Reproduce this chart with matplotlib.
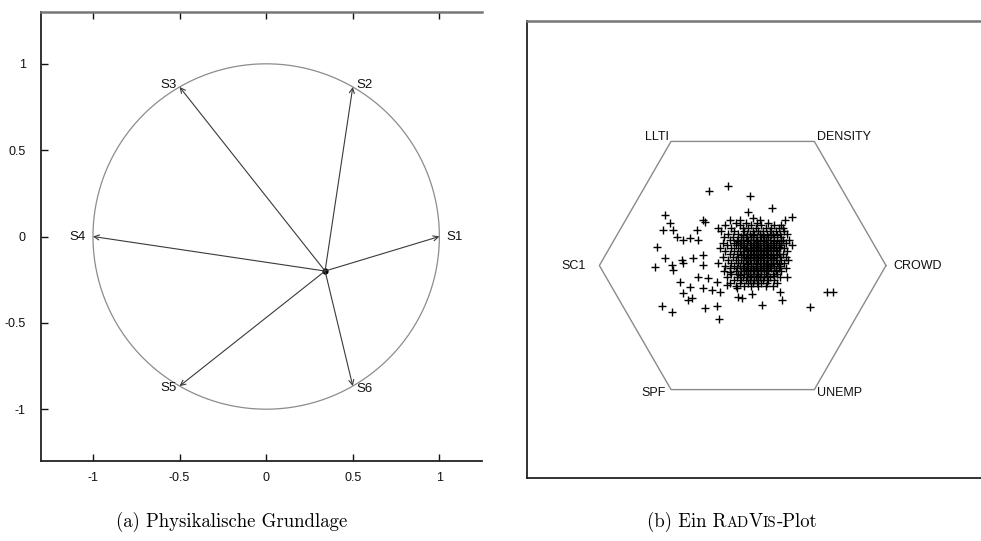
import numpy as np
import matplotlib.pyplot as plt

# ---- left panel: physical model (springs on the unit circle) ----
anchor_names = ["S1", "S2", "S3", "S4", "S5", "S6"]
anchor_angles = [0, 60, 120, 180, 240, 300]
spring_point = (0.34, -0.20)
left_ticks = [-1, -0.5, 0, 0.5, 1]
left_tick_labels = ["-1", "-0.5", "0", "0.5", "1"]

# ---- right panel: RadViz of six dimensions ----
dim_names = ["CROWD", "DENSITY", "LLTI", "SC1", "SPF", "UNEMP"]
dim_angles = [0, 60, 120, 180, 240, 300]

# scattered points around the main cloud
outlier_x = [-0.233, -0.100, 0.051, 0.202, 0.342, 0.295, 0.039, -0.542, -0.507, -0.263,
             -0.554, -0.484, -0.600, -0.461, -0.415, -0.368, -0.310, -0.321, -0.170, -0.089,
             -0.019, 0.074, 0.121, 0.283, 0.342, -0.612, -0.542, -0.495, -0.484, -0.426,
             -0.345, -0.275, -0.275, -0.438, -0.368, -0.415, -0.380, -0.356, -0.565, -0.495,
             -0.263, -0.181, -0.158, -0.216, -0.275, -0.310, -0.240, -0.181, -0.112, -0.042,
             -0.031, -0.089, -0.019, 0.063, 0.133, 0.260, 0.272, 0.470, 0.586, 0.632,
             0.307, 0.318, -0.007, -0.167, -0.275, -0.419]
outlier_y = [0.522, 0.555, 0.485, 0.399, 0.341, 0.318, 0.375, 0.352, 0.294, 0.306,
             0.248, 0.248, 0.131, 0.201, 0.178, 0.190, 0.178, 0.248, 0.262, 0.318,
             0.318, 0.329, 0.318, 0.260, 0.143, -0.008, 0.050, 0.003, -0.031, 0.038,
             0.050, 0.073, 0.003, -0.113, -0.148, -0.194, -0.241, -0.229, -0.281, -0.322,
             -0.294, -0.283, -0.183, -0.171, -0.159, -0.078, -0.089, -0.113, -0.136, -0.159,
             -0.218, -0.043, -0.066, -0.201, -0.276, -0.183, -0.241, -0.288, -0.187, -0.187,
             -0.078, 0.038, -0.229, -0.371, 0.318, 0.018]

# dense core of the cloud, read row by row (y, list of x)
core_rows = [
    (0.30, [-0.05, 0.02, 0.10, 0.18]),
    (0.28, [-0.12, -0.02, 0.06, 0.13, 0.22, 0.27]),
    (0.26, [-0.08, 0.00, 0.04, 0.09, 0.16, 0.20, 0.25]),
    (0.24, [-0.15, -0.06, 0.01, 0.07, 0.11, 0.14, 0.19, 0.23, 0.29]),
    (0.22, [-0.10, -0.03, 0.03, 0.05, 0.08, 0.12, 0.17, 0.21, 0.26, 0.31]),
    (0.21, [0.00, 0.07, 0.14, 0.20, 0.24]),
    (0.20, [-0.13, -0.07, -0.01, 0.02, 0.06, 0.10, 0.13, 0.15, 0.18, 0.22, 0.27]),
    (0.18, [-0.09, -0.04, 0.00, 0.04, 0.07, 0.09, 0.12, 0.16, 0.19, 0.24, 0.28, 0.32]),
    (0.17, [-0.03, 0.03, 0.10, 0.15, 0.22, 0.27]),
    (0.16, [-0.14, -0.06, -0.02, 0.01, 0.05, 0.08, 0.11, 0.14, 0.17, 0.21, 0.25, 0.30]),
    (0.14, [-0.11, -0.05, -0.01, 0.03, 0.06, 0.09, 0.12, 0.15, 0.18, 0.20, 0.23, 0.27]),
    (0.13, [0.01, 0.07, 0.11, 0.17, 0.21, 0.25]),
    (0.12, [-0.16, -0.08, -0.03, 0.00, 0.02, 0.05, 0.08, 0.10, 0.13, 0.16, 0.19, 0.22, 0.26, 0.29]),
    (0.11, [0.03, 0.06, 0.11, 0.15, 0.18, 0.23]),
    (0.10, [-0.12, -0.06, -0.02, 0.01, 0.04, 0.07, 0.09, 0.12, 0.14, 0.17, 0.20, 0.24, 0.31]),
    (0.08, [-0.09, -0.04, 0.00, 0.03, 0.06, 0.08, 0.11, 0.13, 0.16, 0.18, 0.21, 0.25, 0.28]),
    (0.07, [-0.01, 0.05, 0.09, 0.14, 0.20, 0.24]),
    (0.06, [-0.14, -0.07, -0.03, 0.01, 0.04, 0.07, 0.10, 0.12, 0.15, 0.19, 0.22, 0.26, 0.30]),
    (0.05, [0.02, 0.08, 0.13, 0.17, 0.21]),
    (0.04, [-0.10, -0.05, -0.01, 0.02, 0.05, 0.08, 0.11, 0.14, 0.17, 0.20, 0.23, 0.27]),
    (0.02, [-0.17, -0.08, -0.03, 0.00, 0.03, 0.06, 0.09, 0.12, 0.15, 0.18, 0.21, 0.24, 0.29]),
    (0.01, [0.04, 0.10, 0.16, 0.20, 0.25]),
    (0.00, [-0.12, -0.06, -0.02, 0.01, 0.04, 0.07, 0.10, 0.13, 0.16, 0.19, 0.22, 0.26]),
    (-0.02, [-0.09, -0.04, 0.00, 0.03, 0.06, 0.09, 0.12, 0.14, 0.17, 0.20, 0.25, 0.30]),
    (-0.03, [0.02, 0.08, 0.13, 0.18, 0.23]),
    (-0.04, [-0.13, -0.05, -0.01, 0.02, 0.05, 0.08, 0.11, 0.15, 0.18, 0.23, 0.27]),
    (-0.06, [-0.08, -0.03, 0.01, 0.04, 0.07, 0.10, 0.13, 0.16, 0.21, 0.24]),
    (-0.07, [0.05, 0.11, 0.17, 0.22]),
    (-0.08, [-0.11, -0.04, 0.00, 0.03, 0.06, 0.09, 0.12, 0.15, 0.19, 0.26]),
    (-0.10, [-0.06, -0.01, 0.02, 0.05, 0.08, 0.11, 0.14, 0.18, 0.22]),
    (-0.12, [-0.09, -0.02, 0.04, 0.07, 0.10, 0.13, 0.17, 0.24]),
    (-0.14, [-0.05, 0.01, 0.06, 0.11, 0.16, 0.21]),
]

sans = ["Liberation Sans", "DejaVu Sans"]
serif = ["cmr10", "DejaVu Serif"]

fig = plt.figure(figsize=(9.81, 5.41), dpi=100)

# ---------------- (a) ----------------
ax1 = fig.add_axes([41 / 981, 1 - 461 / 541, (482 - 41) / 981, (461 - 12) / 541])
ax1.set_xlim(-1.3, 1.246)
ax1.set_ylim(-1.3, 1.3)

t = np.linspace(0, 2 * np.pi, 300)
ax1.plot(np.cos(t), np.sin(t), color="#8c8c8c", lw=0.9)

label_style = {
    "S1": (7, 0, "left"), "S2": (4, 2, "left"), "S3": (-3, 2, "right"),
    "S4": (-7, 0, "right"), "S5": (-3, -2, "right"), "S6": (4, -3, "left"),
}
for name, ang in zip(anchor_names, anchor_angles):
    px, py = np.cos(np.radians(ang)), np.sin(np.radians(ang))
    ax1.annotate("", xy=(px, py), xytext=spring_point,
                 arrowprops=dict(arrowstyle="->", color="#3a3a3a", lw=0.8,
                                 mutation_scale=9, shrinkA=0, shrinkB=0))
    dx, dy, ha = label_style[name]
    ax1.annotate(name, (px, py), xytext=(dx, dy), textcoords="offset pixels",
                 ha=ha, va="center", fontsize=9.5, family=sans, color="#111")
ax1.plot(*spring_point, marker="o", ms=3.5, color="black")

ax1.set_xticks(left_ticks)
ax1.set_xticklabels(left_tick_labels)
ax1.set_yticks(left_ticks)
ax1.set_yticklabels(left_tick_labels)
ax1.tick_params(direction="in", length=5, width=1, top=True, right=False,
                labelsize=9, colors="#111")
ax1.tick_params(axis="y", pad=11)
ax1.tick_params(axis="x", pad=8)
for lab in ax1.get_xticklabels() + ax1.get_yticklabels():
    lab.set_family(sans)
ax1.spines["right"].set_visible(False)
for s in ["left", "bottom"]:
    ax1.spines[s].set_color("#222")
    ax1.spines[s].set_linewidth(1.3)
ax1.spines["top"].set_color("#777")
ax1.spines["top"].set_linewidth(1.8)

# ---------------- (b) ----------------
ax2 = fig.add_axes([527 / 981, 1 - 478 / 541, (981 - 527) / 981, (478 - 20.5) / 541])
ax2.set_xlim(-1.505, 1.663)
ax2.set_ylim(-1.483, 1.710)
ax2.set_xticks([])
ax2.set_yticks([])
ax2.spines["right"].set_visible(False)
for s in ["left", "bottom"]:
    ax2.spines[s].set_color("#222")
    ax2.spines[s].set_linewidth(1.3)
ax2.spines["top"].set_color("#777")
ax2.spines["top"].set_linewidth(1.8)

hx = np.cos(np.radians(dim_angles + [dim_angles[0]]))
hy = np.sin(np.radians(dim_angles + [dim_angles[0]]))
ax2.plot(hx, hy, color="#8a8a8a", lw=1.0)

dim_style = {
    "CROWD": (7, 0, "left"), "DENSITY": (3, 4, "left"), "LLTI": (-2, 4, "right"),
    "SC1": (-14, 0, "right"), "SPF": (-5, -3, "right"), "UNEMP": (3, -3, "left"),
}
for name, ang in zip(dim_names, dim_angles):
    vx, vy = np.cos(np.radians(ang)), np.sin(np.radians(ang))
    dx, dy, ha = dim_style[name]
    ax2.annotate(name, (vx, vy), xytext=(dx, dy), textcoords="offset pixels",
                 ha=ha, va="center", fontsize=9, family=sans, color="#111")

core_x = [x for y, xs in core_rows for x in xs]
core_y = [y for y, xs in core_rows for x in xs]
ax2.plot(outlier_x + core_x, outlier_y + core_y, linestyle="none", marker="+",
         ms=5.5, mew=1.0, color="black")

# ---------------- captions ----------------
cap_y = 1 - 527 / 541
fig.text(232 / 981, cap_y, "(a) Physikalische Grundlage", ha="center",
         va="baseline", fontsize=13.5, family=serif)

# "(b) Ein RadVis-Plot" with small caps: pieces placed one after another
pieces = [("(b) Ein R", 13.5), ("AD", 10.5), ("V", 13.5), ("IS", 10.5), ("-Plot", 13.5)]
renderer = fig.canvas.get_renderer()
x_px = 647
for txt, size in pieces:
    piece = fig.text(x_px / fig.bbox.width, cap_y, txt, fontsize=size, family=serif,
                     ha="left", va="baseline")
    x_px = piece.get_window_extent(renderer).x1

fig.savefig("out.png", dpi=100)
